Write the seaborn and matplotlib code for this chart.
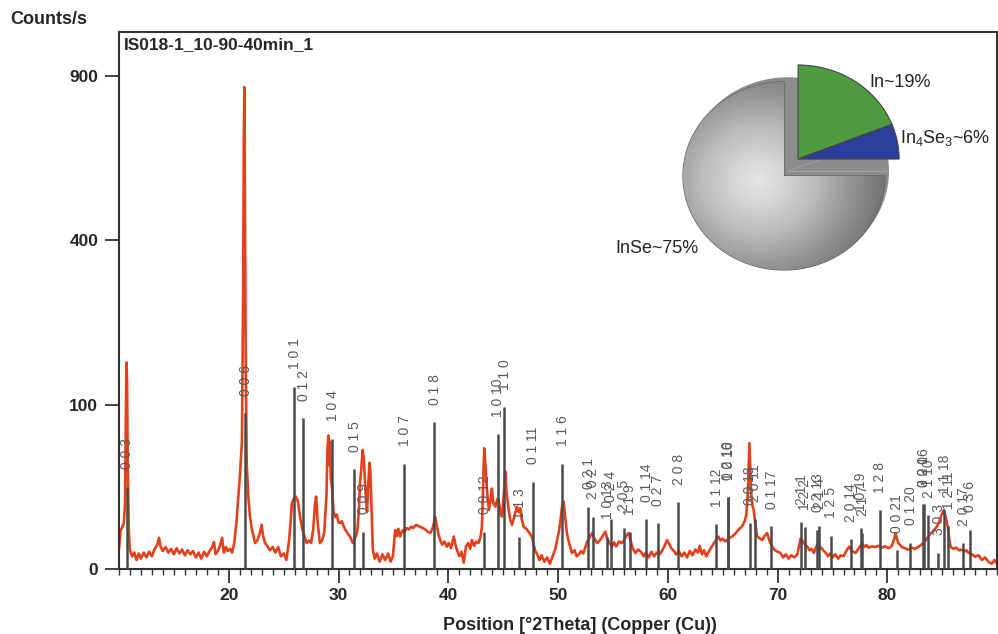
import numpy as np
import pandas as pd
import seaborn as sns
import matplotlib.pyplot as plt
from matplotlib.ticker import MultipleLocator, NullLocator

# measured scan (2theta, counts/s)
two_theta = [
    10.0, 10.15, 10.3, 10.45, 10.55, 10.62, 10.68, 10.74, 10.8, 10.9,
    11.0, 11.2, 11.4, 11.6, 11.8, 12.0, 12.25, 12.5, 12.75, 13.0,
    13.25, 13.5, 13.65, 13.8, 14.0, 14.25, 14.5, 14.75, 15.0, 15.25,
    15.5, 15.75, 16.0, 16.25, 16.5, 16.75, 17.0, 17.25, 17.5, 17.75,
    18.0, 18.25, 18.5, 18.65, 18.8, 19.0, 19.2, 19.4, 19.55, 19.75,
    19.9, 20.1, 20.3, 20.5, 20.7, 20.85, 21.0, 21.2, 21.3, 21.38,
    21.42, 21.46, 21.55, 21.64, 21.8, 21.94, 22.1, 22.25, 22.4, 22.6,
    22.8, 23.0, 23.1, 23.3, 23.5, 23.75, 24.0, 24.25, 24.5, 24.75,
    25.0, 25.25, 25.5, 25.65, 25.75, 25.9, 26.1, 26.3, 26.5, 26.7,
    26.9, 27.1, 27.3, 27.5, 27.7, 27.85, 27.96, 28.1, 28.3, 28.5,
    28.7, 28.9, 29.0, 29.08, 29.15, 29.22, 29.3, 29.4, 29.55, 29.7,
    29.85, 30.0, 30.15, 30.3, 30.5, 30.75, 31.05, 31.3, 31.5, 31.7,
    31.85, 31.96, 32.1, 32.2, 32.3, 32.4, 32.5, 32.6, 32.7, 32.82,
    32.9, 33.0, 33.13, 33.3, 33.5, 33.75, 34.0, 34.25, 34.5, 34.75,
    34.95, 35.16, 35.3, 35.45, 35.6, 35.8, 36.0, 36.2, 36.4, 36.6,
    36.8, 37.0, 37.1, 37.3, 37.5, 37.7, 37.9, 38.1, 38.35, 38.55,
    38.7, 38.8, 38.95, 39.1, 39.26, 39.45, 39.65, 39.87, 40.05, 40.25,
    40.5, 40.65, 40.8, 41.0, 41.2, 41.4, 41.6, 41.8, 42.0, 42.15,
    42.35, 42.55, 42.75, 42.95, 43.06, 43.15, 43.27, 43.38, 43.5, 43.6,
    43.7, 43.85, 43.97, 44.1, 44.3, 44.45, 44.58, 44.75, 44.89, 45.05,
    45.19, 45.3, 45.5, 45.65, 45.8, 46.0, 46.25, 46.4, 46.55, 46.7,
    46.86, 47.1, 47.3, 47.6, 47.9, 48.1, 48.3, 48.5, 48.75, 49.0,
    49.25, 49.5, 49.75, 49.9, 50.05, 50.2, 50.35, 50.5, 50.6, 50.8,
    51.0, 51.27, 51.5, 51.7, 51.9, 52.1, 52.3, 52.5, 52.7, 52.9,
    53.1, 53.3, 53.55, 53.8, 54.05, 54.3, 54.5, 54.7, 54.9, 55.1,
    55.3, 55.55, 55.8, 56.0, 56.2, 56.43, 56.6, 56.8, 57.04, 57.3,
    57.55, 57.8, 58.0, 58.25, 58.5, 58.75, 59.0, 59.25, 59.5, 59.75,
    59.93, 60.1, 60.3, 60.5, 60.75, 61.0, 61.25, 61.5, 61.75, 62.0,
    62.25, 62.5, 62.75, 62.9, 63.1, 63.3, 63.5, 63.75, 64.0, 64.2,
    64.4, 64.6, 64.8, 65.0, 65.2, 65.4, 65.6, 65.8, 66.0, 66.2,
    66.4, 66.6, 66.8, 67.0, 67.15, 67.28, 67.36, 67.43, 67.5, 67.58,
    67.7, 67.82, 67.95, 68.13, 68.35, 68.6, 68.8, 69.04, 69.25, 69.5,
    69.75, 70.0, 70.26, 70.5, 70.75, 71.0, 71.25, 71.5, 71.8, 71.95,
    72.1, 72.3, 72.5, 72.7, 72.9, 73.1, 73.3, 73.5, 73.7, 73.85,
    74.0, 74.2, 74.4, 74.6, 74.8, 75.0, 75.25, 75.5, 75.75, 76.0,
    76.25, 76.5, 76.8, 77.1, 77.4, 77.7, 77.9, 78.1, 78.3, 78.6,
    78.9, 79.2, 79.5, 79.8, 80.1, 80.4, 80.6, 80.74, 80.85, 81.0,
    81.3, 81.6, 81.9, 82.2, 82.5, 82.8, 83.1, 83.3, 83.5, 83.7,
    83.93, 84.1, 84.3, 84.5, 84.7, 84.85, 85.0, 85.14, 85.3, 85.5,
    85.62, 85.75, 86.0, 86.25, 86.5, 86.75, 87.0, 87.2, 87.4, 87.7,
    88.0, 88.3, 88.6, 88.9, 89.2, 89.5, 89.75, 90.0,
]
counts = [
    1.5, 5.5, 6.5, 8, 16, 80, 158, 130, 40, 5,
    1.3, 0.6, 1.0, 0.3, 0.9, 0.4, 1.0, 0.5, 1.1, 0.6,
    1.5, 2.2, 3.6, 1.8, 1.2, 1.8, 1.0, 1.5, 0.8, 1.6,
    0.9, 1.4, 0.7, 1.3, 0.8, 1.2, 0.5, 1.0, 0.4, 1.1,
    0.6, 1.2, 1.8, 2.7, 0.8, 1.2, 2.0, 3.6, 1.0, 1.8,
    1.2, 1.5, 1.0, 2.5, 8, 17.7, 30, 60, 250, 700,
    860, 600, 150, 40, 18, 10, 6, 4, 2.5, 3,
    4.5, 7.2, 4.5, 2.5, 2.0, 1.3, 1.8, 1.0, 1.8, 0.6,
    0.9, 0.3, 3, 9, 16, 18, 19.5, 17, 10, 6,
    4, 2.5, 3, 2.5, 6, 15, 19.4, 8, 2.5, 3,
    5, 20, 55, 66, 40, 60, 30, 25, 12, 10,
    11, 8, 7.9, 8.5, 6.5, 5, 3.9, 2.5, 3.5, 5,
    12, 27.5, 40, 52.6, 45, 30, 17.7, 12, 25, 41.8,
    35, 15, 1.3, 0.4, 0.9, 0.2, 0.8, 0.3, 0.9, 0.2,
    0.6, 5.6, 4, 6, 3.9, 5.5, 5, 6.2, 5.8, 6.6,
    6.2, 7, 7.2, 6.8, 6.5, 6.2, 5.8, 5.2, 4.8, 6,
    8, 10, 7, 4.5, 3.1, 2.2, 2.8, 1.85, 2.5, 1.6,
    3.9, 2.2, 1.3, 0.6, 1.1, 0.15, 1.8, 2.5, 1.5, 3.1,
    2.0, 2.8, 2.5, 4, 6.6, 20, 54, 40, 25, 18,
    12.9, 18, 24, 16, 14.4, 18, 17.7, 12, 10.2, 20,
    35.2, 22, 12.9, 9, 7.2, 10, 14.4, 12, 13.7, 9,
    6.6, 6, 5.2, 3.9, 1.3, 0.8, 0.3, 0.7, 0.2, 0.5,
    0.1, 0.6, 1.5, 3, 4.8, 8, 14, 16.8, 12, 4.8,
    2.5, 0.95, 1.3, 0.6, 0.8, 1.2, 0.9, 1.85, 3, 3.8,
    4.8, 3.5, 2.5, 3, 4, 5.2, 3.2, 2.5, 1.85, 2.6,
    1.9, 2.8, 2.5, 3, 4, 4.8, 3, 1.6, 0.95, 1.4,
    1.1, 0.6, 1.0, 0.5, 1.1, 0.6, 1.0, 0.8, 1.3, 2.2,
    3.1, 2.4, 1.6, 1.3, 0.8, 1.2, 0.6, 1.0, 0.5, 1.2,
    0.7, 1.4, 1.0, 2.0, 0.8, 1.3, 0.6, 1.2, 1.85, 2.5,
    3.2, 3.9, 3.0, 3.4, 2.8, 3.1, 3.6, 3.8, 4.3, 4.8,
    5.6, 6.2, 7, 8.5, 11, 21.3, 40, 58.7, 40, 22.4,
    15, 12.9, 8, 3.9, 3.5, 3.1, 4, 4.8, 3, 1.85,
    1.3, 1.1, 0.95, 0.5, 0.8, 0.4, 0.7, 0.5, 0.8, 2,
    3.5, 2.8, 2.2, 1.85, 1.3, 1.5, 0.95, 1.8, 2.5, 1.85,
    1.6, 1.2, 0.95, 0.6, 0.9, 0.5, 0.8, 0.4, 0.7, 0.6,
    1.2, 1.85, 1.2, 0.95, 1.6, 2.45, 1.8, 2.1, 1.7, 1.9,
    1.8, 2.0, 1.7, 1.9, 1.6, 2.0, 3.2, 4.7, 3.5, 2.5,
    1.8, 1.6, 1.4, 1.7, 1.5, 1.8, 2.2, 2.6, 3.1, 3.8,
    4.7, 5.0, 5.8, 6.6, 8, 10, 11.5, 12.9, 10, 6.6,
    3.5, 1.85, 1.5, 1.7, 1.3, 1.4, 1.1, 1.3, 0.95, 0.8,
    0.56, 0.7, 0.3, 0.5, 0.2, 0.1, 0.3, 0.1,
]

# reference pattern sticks
stick_pos = [10.70, 21.49, 25.98, 26.77, 29.44, 31.42, 32.24, 35.98, 38.68, 43.29,
             44.49, 45.06, 46.46, 47.68, 50.38, 52.72, 53.14, 54.45, 54.78, 55.97,
             56.51, 58.00, 59.06, 60.92, 64.42, 65.45, 65.50, 67.45, 67.90, 69.40,
             72.13, 72.46, 73.59, 73.80, 74.84, 76.64, 77.55, 77.70, 79.28, 80.83,
             82.04, 83.26, 83.30, 83.69, 84.60, 85.14, 85.55, 86.90, 87.50]
stick_height = [25, 90, 123, 84, 63, 37, 5.2, 41, 80, 5.2,
                67.5, 96.7, 3.9, 28.3, 41, 14.4, 10.2, 3.9, 9.3, 6.2,
                5.0, 9.2, 7.8, 16.5, 7.5, 19.1, 19.1, 8.0, 9.2, 6.7,
                8.2, 6.5, 5.7, 6.7, 4.1, 3.3, 6.25, 4.7, 12.9, 1.3,
                2.6, 15.6, 15.6, 10.7, 1.0, 12.9, 6.7, 2.45, 5.7]
stick_hkl = ['0 0 3', '0 0 6', '1 0 1', '0 1 2', '1 0 4', '0 1 5', '0 0 9', '1 0 7', '0 1 8', '0 0 12',
             '1 0 10', '1 1 0', '1 1 3', '0 1 11', '1 1 6', '0 2 1', '2 0 2', '1 0 13', '0 2 4', '2 0 5',
             '1 1 9', '0 1 14', '0 2 7', '2 0 8', '1 1 12', '0 2 10', '1 0 16', '0 0 18', '2 0 11', '0 1 17',
             '2 1 1', '1 2 2', '0 2 13', '2 1 4', '1 2 5', '2 0 14', '1 0 19', '2 1 7', '1 2 8', '0 0 21',
             '0 1 20', '3 0 0', '0 2 16', '2 1 10', '3 0 3', '1 1 18', '1 2 11', '2 0 17', '0 3 6']

# phase fractions for the inset pie
phase_names = ['In~19%', 'In$_4$Se$_3$~6%', 'InSe~75%']
phase_frac = [19, 6, 75]

x_ticks = [20, 30, 40, 50, 60, 70, 80]
y_ticks = [0, 100, 400, 900]

sns.set_theme(style='ticks')
plt.rcParams['font.family'] = ['Liberation Sans', 'DejaVu Sans']
plt.rcParams['mathtext.default'] = 'regular'

fig = plt.figure(figsize=(9.98, 6.34), dpi=100)
ax = fig.add_axes([0.1192, 0.1025, 0.880, 0.847])

scan = pd.DataFrame({'pos': two_theta, 'cps': counts})
sns.lineplot(data=scan, x='pos', y='cps', color='#e4401b', lw=1.9, ax=ax, zorder=2)

ax.set_yscale('function', functions=(lambda v: np.sqrt(np.clip(v, 0, None)), lambda v: np.square(v)))
ax.set_xlim(10, 90)
ax.set_ylim(0, 1068)

ax.vlines(stick_pos, 0, stick_height, colors='#4a4a4a', lw=1.8, zorder=3)
for p, h, t in zip(stick_pos, stick_height, stick_hkl):
    ax.annotate(t, (p, h), xytext=(0.5, 12.5), textcoords='offset points', rotation=90,
                ha='center', va='bottom', fontsize=10, color='#5a5a5a', zorder=4)

ax.set_xticks(x_ticks)
ax.set_xticklabels([str(v) for v in x_ticks], fontweight='bold', fontsize=12.5)
ax.xaxis.set_minor_locator(MultipleLocator(1))
ax.set_yticks(y_ticks)
ax.set_yticklabels([str(v) for v in y_ticks], fontweight='bold', fontsize=12.5)
ax.yaxis.set_minor_locator(NullLocator())
ax.tick_params(axis='x', which='major', length=10, width=1.3, pad=4, color='#333333')
ax.tick_params(axis='x', which='minor', length=4, width=1.0, color='#333333')
ax.tick_params(axis='y', which='major', length=10, width=1.3, pad=5, color='#333333')
for s in ax.spines.values():
    s.set_color('#333333')
    s.set_linewidth(1.5)
ax.set_xlabel('')
ax.set_ylabel('')

ax.text(0.006, 0.991, 'IS018-1_10-90-40min_1', transform=ax.transAxes, va='top', ha='left',
        fontsize=12.5, fontweight='bold')
fig.text(10 / 998, 1 - 20 / 634, 'Counts/s', fontsize=13, fontweight='bold', va='center', ha='left')
fig.text(580 / 998, 1 - 625 / 634, 'Position [°2Theta] (Copper (Cu))', fontsize=13,
         fontweight='bold', va='center', ha='center')

# inset pie
pax = fig.add_axes([0.6641, 0.5667, 0.2530, 0.3486])
shadow, _ = pax.pie(phase_frac, startangle=90, counterclock=False, colors=['#8c8c8c'] * 3,
                    center=(0.04, 0.05), radius=1.0, wedgeprops=dict(linewidth=0))
base, _ = pax.pie(phase_frac, startangle=90, counterclock=False,
                  colors=['none', 'none', '#d0d0d0'],
                  wedgeprops=dict(edgecolor='#555555', linewidth=0.8))
for w in base[:2]:
    w.set_visible(False)
gy, gx = np.mgrid[-1:1:300j, -1:1:300j]
glow = np.hypot(gx + 0.25, gy + 0.05)
im = pax.imshow(glow, cmap='Greys', vmin=-0.5, vmax=2.3, extent=(-1, 1, -1, 1),
                origin='lower', aspect='auto', zorder=base[2].get_zorder() + 0.1)
im.set_clip_path(base[2])
top, _ = pax.pie(phase_frac, startangle=90, counterclock=False,
                 colors=['#4f9b40', '#2c3f9c', 'none'], center=(0.14, 0.18),
                 wedgeprops=dict(edgecolor='#444444', linewidth=0.8))
top[2].set_visible(False)
for w in top[:2]:
    w.set_zorder(5)
pax.set_aspect('auto')
pax.set_xlim(-1.2, 1.3)
pax.set_ylim(-1.05, 1.3)
pax.axis('off')
pax.text(0.85, 0.99, phase_names[0], fontsize=13, va='center', ha='left', color='#222222')
pax.text(1.15, 0.40, phase_names[1], fontsize=13, va='center', ha='left', color='#222222')
pax.text(-1.67, -0.77, phase_names[2], fontsize=13, va='center', ha='left', color='#222222')

fig.savefig('out.png', dpi=100)
